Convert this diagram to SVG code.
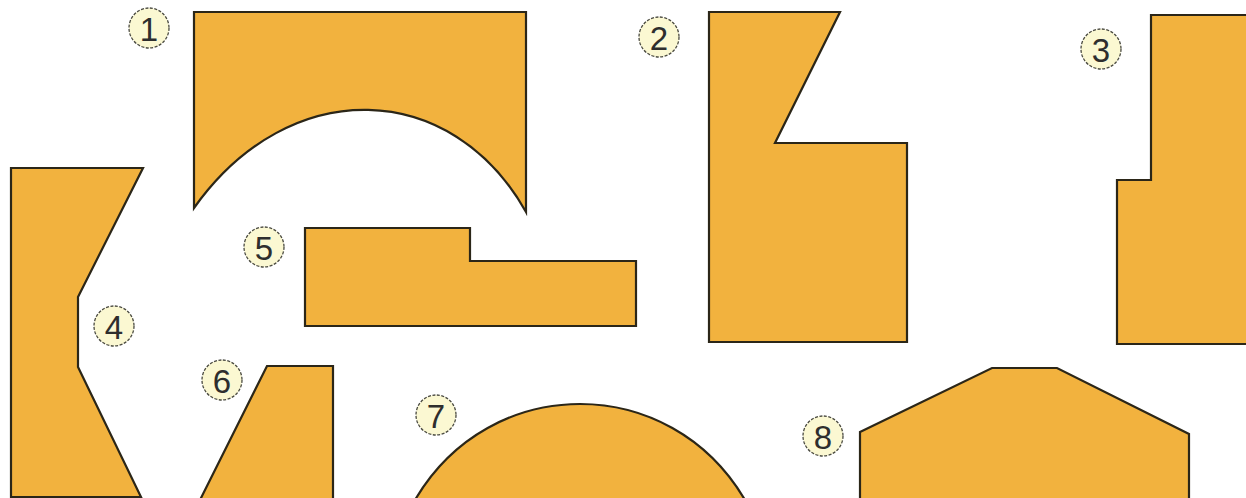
<svg xmlns="http://www.w3.org/2000/svg" width="1246" height="498" viewBox="0 0 1246 498">
<style>
.shape{fill:#F2B23E;stroke:#2b2618;stroke-width:2.2;stroke-linejoin:miter}
.badge{fill:#FBF8D2;stroke:#4a4a40;stroke-width:1.3;stroke-dasharray:3 1.5}
.num{font-family:"Liberation Sans",Arial,sans-serif;font-size:33px;fill:#2e2e2e;text-anchor:middle;dominant-baseline:central}
</style>
<rect width="1246" height="498" fill="#ffffff"/>
<g id="shape1">
<path class="shape" d="M194,12 L526,12 L526,212 C452,80 290,73 194,208 Z"/>
<circle class="badge" cx="149" cy="28" r="20"/><text class="num" x="149" y="29">1</text>
</g>
<g id="shape2">
<path class="shape" d="M709,12 L840,12 L775,143 L907,143 L907,342 L709,342 Z"/>
<circle class="badge" cx="659" cy="37" r="20"/><text class="num" x="659" y="38">2</text>
</g>
<g id="shape3">
<path class="shape" d="M1151,15 L1250,15 L1250,344 L1117,344 L1117,180 L1151,180 Z"/>
<circle class="badge" cx="1101" cy="49" r="20"/><text class="num" x="1101" y="50">3</text>
</g>
<g id="shape4">
<path class="shape" d="M11,168 L143,168 L78,297 L78,367 L141,497 L11,497 Z"/>
<circle class="badge" cx="114" cy="326" r="20"/><text class="num" x="114" y="327">4</text>
</g>
<g id="shape5">
<path class="shape" d="M305,228 L470,228 L470,261 L636,261 L636,326 L305,326 Z"/>
<circle class="badge" cx="264" cy="247" r="20"/><text class="num" x="264" y="248">5</text>
</g>
<g id="shape6">
<path class="shape" d="M267,366 L333,366 L333,500 L200,500 Z"/>
<circle class="badge" cx="222" cy="380" r="20"/><text class="num" x="222" y="381">6</text>
</g>
<g id="shape7">
<path class="shape" d="M415,500 C490,372 670,372 745,500 Z"/>
<circle class="badge" cx="436" cy="415" r="20"/><text class="num" x="436" y="416">7</text>
</g>
<g id="shape8">
<path class="shape" d="M860,432 L992,368 L1057,368 L1189,434 L1189,500 L860,500 Z"/>
<circle class="badge" cx="823" cy="436" r="20"/><text class="num" x="823" y="437">8</text>
</g>
<g id="connectors"></g>
</svg>
